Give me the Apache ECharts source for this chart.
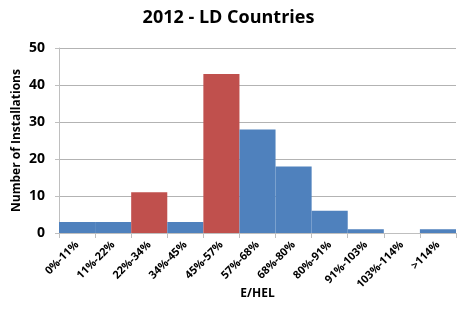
<!DOCTYPE html>
<html><head><meta charset="utf-8">
<script src="https://cdn.jsdelivr.net/npm/echarts@6/dist/echarts.min.js"></script>
<style>html,body{margin:0;padding:0;background:#fff}#c{width:457px;height:320px}</style>
</head><body><div id="c"></div>
<script>
const categories = ['0%-11%','11%-22%','22%-34%','34%-45%','45%-57%','57%-68%','68%-80%','80%-91%','91%-103%','103%-114%','>114%'];
const values = [3,3,11,3,43,28,18,6,1,0,1];
const highlighted = [false,false,true,false,true,false,false,false,false,false,false];
const yTicks = [0,10,20,30,40,50];
const BLUE='#4F81BD', RED='#C0504D';
const FONT='"Open Sans", "Liberation Sans", sans-serif';
const chart = echarts.init(document.getElementById('c'));
chart.setOption({
  animation:false,
  title:{text:'2012 - LD Countries',left:'center',top:4,textStyle:{fontFamily:FONT,fontSize:18,fontWeight:'bold',color:'#000'}},
  grid:{left:59,right:1,top:48,bottom:87,containLabel:false,outerBoundsMode:'none'},
  xAxis:{type:'category',data:categories,
    name:'E/HEL',nameLocation:'middle',nameGap:55,nameMoveOverlap:false,
    nameTextStyle:{fontFamily:FONT,fontSize:12,fontWeight:'bold',color:'#000'},
    axisLine:{lineStyle:{color:'#bfbfbf'}},
    axisTick:{show:true,alignWithLabel:false,length:5,lineStyle:{color:'#bfbfbf'}},
    axisLabel:{rotate:45,interval:0,fontFamily:FONT,fontSize:11,fontWeight:'bold',color:'#000',margin:10}},
  yAxis:{type:'value',min:yTicks[0],max:yTicks[yTicks.length-1],interval:10,
    name:'Number of Installations',nameLocation:'middle',nameGap:36,nameMoveOverlap:false,
    nameTextStyle:{fontFamily:FONT,fontSize:12,fontWeight:'bold',color:'#000'},
    axisLine:{show:true,lineStyle:{color:'#bfbfbf'}},
    axisTick:{show:true,length:4,lineStyle:{color:'#bfbfbf'}},
    splitLine:{lineStyle:{color:'#b3b3b3'}},
    axisLabel:{fontFamily:FONT,fontSize:14,fontWeight:'bold',color:'#000',margin:14}},
  series:[{type:'bar',barCategoryGap:'0%',
    data:values.map((v,i)=>({value:v,itemStyle:{color:highlighted[i]?RED:BLUE}}))}]
});
</script></body></html>
